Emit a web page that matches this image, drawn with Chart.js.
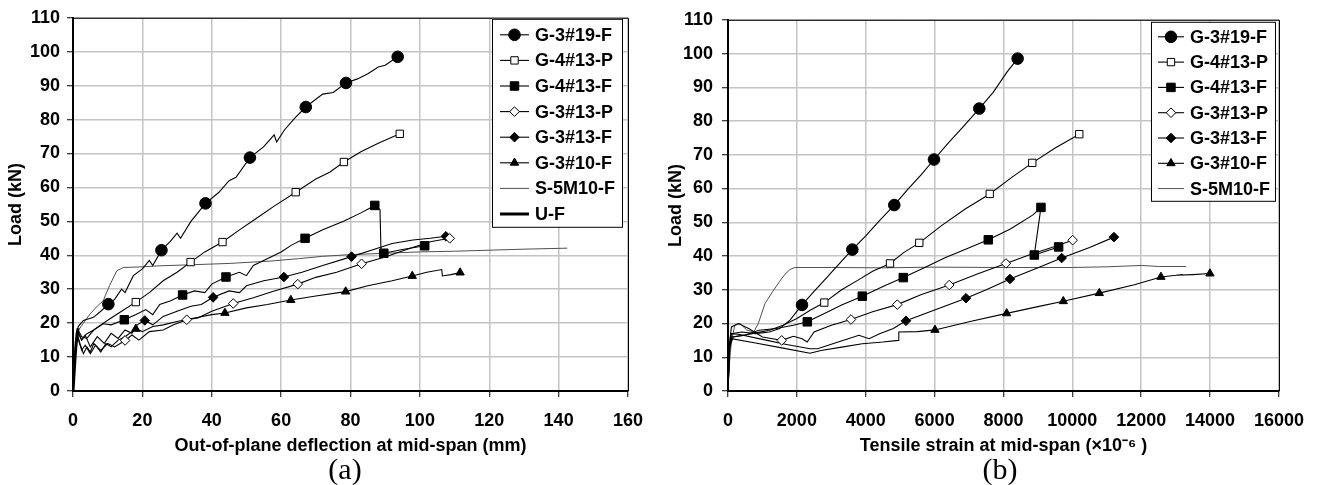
<!DOCTYPE html>
<html>
<head>
<meta charset="utf-8">
<script src="https://cdn.jsdelivr.net/npm/chart.js@4.4.0/dist/chart.umd.min.js"></script>
<style>
  body { margin: 0; background: #fff; }
  #wrap { position: relative; width: 1317px; height: 485px; }
  canvas { position: absolute; top: 0; }
  #ca { left: 0; }
  #cb { left: 658px; }
  .cap { position: absolute; top: 454px; width: 100px; text-align: center;
         font-family: "Liberation Serif", "Times New Roman", serif; font-size: 30px; line-height: 30px; }
</style>
</head>
<body>
<div id="wrap">
  <canvas id="ca" width="658" height="485"></canvas>
  <canvas id="cb" width="659" height="485"></canvas>
  <div class="cap" style="left:295px">(a)</div>
  <div class="cap" style="left:950px">(b)</div>
</div>
<script>
// ---- (a) load vs out-of-plane deflection (mm) ----
const deflG319F = [[0,0],[0.8,14],[1.5,19],[3,20.8],[5.9,21.7],[8,23.5],[10.2,25.6],[12,27],[14,30],[15,29],[17.4,34],[20,36],[22,38.5],[23,37],[25.5,41.5],[28,44],[30,46.5],[31,45],[34,50],[38.2,55.3],[42,58.5],[45,62],[47,63],[51,68.8],[55,72],[58,75.5],[58.7,73.4],[61,77],[64,80.5],[67.1,83.7],[70,86],[72,87.5],[75,88],[78.7,90.8],[82,92],[85,93.5],[88,95.5],[90,96],[93.6,98.5]];
const deflG319Fmk = [[10.2,25.6],[25.5,41.5],[38.2,55.3],[51,68.8],[67.1,83.7],[78.7,90.8],[93.6,98.5]];

const deflG413P = [[0,0],[0.8,13],[1.5,18],[2.5,16],[4,15.5],[6,18],[8,19.5],[11,21.5],[14,23.5],[18.1,26.2],[22,29],[26,32.5],[30,35],[33.9,38],[38,41],[43.1,43.9],[48,47.5],[53,51],[58,54.5],[64.2,58.6],[70,62.5],[74,64.5],[78.1,67.5],[83,70.5],[88,73],[94.2,75.8]];
const deflG413Pmk = [[18.1,26.2],[33.9,38],[43.1,43.9],[64.2,58.6],[78.1,67.5],[94.2,75.8]];

const deflG413F = [[0,0],[0.8,13],[1.5,17],[2.5,15],[3.9,16.8],[6,18],[8.7,19.8],[11,19.5],[14.8,21],[18,22.5],[21,24],[23,22.5],[25,25.5],[28,26.5],[31.6,28.3],[35,29.5],[38,29],[40,31.5],[44.1,33.6],[48,35],[50,34],[52,37],[56,39],[60,41],[63,43],[66.9,45],[72,47.5],[78,50],[83,52.5],[87,54.7],[88.5,53.5],[88.8,41],[89.6,40.6],[95,41.7],[101.4,42.8]];
const deflG413Fmk = [[14.8,21],[31.6,28.3],[44.1,33.6],[66.9,45],[87,54.7],[89.6,40.6],[101.4,42.8]];

const deflG313P = [[0,0],[0.8,12],[1.2,17],[2,14],[3,11],[4,13],[5,11.5],[6,14],[8,12],[10,14],[12,13],[15,14.9],[17,16.5],[19,15],[22,17.5],[26,18],[29,19.5],[32.8,21],[36,21.5],[40,23.5],[46.2,25.8],[52,27.5],[58,29.5],[64.8,31.5],[70,33.5],[76,35],[83.2,37.5],[90,39.5],[97,42],[103,44],[108.6,45]];
const deflG313Pmk = [[15,14.9],[32.8,21],[46.2,25.8],[64.8,31.5],[83.2,37.5],[108.6,45]];

const deflG313F = [[0,0],[0.8,13],[1.3,18],[2.5,15],[3.5,16.5],[5,13],[7,16],[9,14],[11,17],[13,15.5],[15,18],[17,17],[18.5,19.5],[20.7,20.8],[23,19.5],[26,22],[30,23.5],[34,25],[37,25.5],[40.4,27.6],[45,29.5],[48,29],[50,31],[55,32.5],[60.8,33.6],[66,35],[72,37],[80.3,39.6],[86,41.5],[92,43.5],[98,44.5],[103,45],[107.5,45.6]];
const deflG313Fmk = [[20.7,20.8],[40.4,27.6],[60.8,33.6],[80.3,39.6],[107.5,45.6]];

const deflG310F = [[0,0],[0.8,12],[1.3,16],[2.5,12],[3.5,13.5],[5,11],[6.5,13.5],[8,11.5],[9.5,14],[11,13],[13,15],[15,16],[18.1,18.3],[20,17.5],[23,19],[26,19.5],[30,20.5],[35,21.5],[40,22.5],[43.8,23],[50,24.5],[56,25.5],[62.8,26.8],[70,28],[78.6,29.3],[85,31],[92,32.5],[97.8,33.9],[102,35],[106.3,35.8],[106.5,33.9],[109,34.3],[111.6,34.9]];
const deflG310Fmk = [[18.1,18.3],[43.8,23],[62.8,26.8],[78.6,29.3],[97.8,33.9],[111.6,34.9]];

const deflS5M10F = [[0,0],[0.5,10],[1,16],[1.5,17.8],[3,20],[4.9,22.7],[7,25],[8.7,26.6],[10.5,31],[12.6,35.4],[14.5,36.4],[20,36.6],[25,36.9],[34,37.2],[45,37.6],[57,38.3],[65,39],[72,39.7],[80,40.2],[90,40.6],[100,41],[110,41.2],[120,41.5],[130,41.8],[142.5,42.1]];
const deflUF = [[0,0],[0.3,5],[0.6,10],[0.9,14],[1.2,17],[1.5,18.5]];

// ---- (b) load vs tensile strain (x10^-6) ----
const strG319F = [[0,0],[40,12],[100,17],[400,17.5],[800,17],[1200,17.5],[1500,18.5],[1800,21],[2149,25.5],[2500,29.5],[2900,34],[3300,38.5],[3610,41.9],[4000,46],[4400,50.5],[4829,55.1],[5200,59.5],[5600,64],[5982,68.6],[6400,73.5],[6800,78],[7297,83.7],[7700,88.5],[8100,94.5],[8411,98.5]];
const strG319Fmk = [[2149,25.5],[3610,41.9],[4829,55.1],[5982,68.6],[7297,83.7],[8411,98.5]];

const strG413P = [[0,0],[50,13],[150,16],[700,17],[1200,18],[1600,19.5],[2000,21.5],[2400,24],[2797,26.2],[3300,30],[3800,33],[4200,35.5],[4704,37.8],[5100,41],[5555,43.9],[6200,49],[6900,54],[7600,58.4],[8200,63],[8836,67.6],[9500,72],[10201,76.1]];
const strG413Pmk = [[2797,26.2],[4704,37.8],[5555,43.9],[7600,58.4],[8836,67.6],[10201,76.1]];

const strG413F = [[0,0],[50,14],[100,16],[500,16.5],[900,18],[1400,18.5],[1900,19.5],[2303,20.5],[2800,23],[3300,25.5],[3900,28.1],[4500,31],[5091,33.6],[5700,36.5],[6300,39.5],[6900,42],[7559,44.8],[8200,48],[8856,52.2],[9088,54.4],[8895,40.3],[9250,41.5],[9601,42.7]];
const strG413Fmk = [[2303,20.5],[3900,28.1],[5091,33.6],[7559,44.8],[9088,54.4],[8895,40.3],[9601,42.7]];

const strG313P = [[0,0],[40,14],[100,19],[300,20],[600,18.5],[1000,16],[1300,15.5],[1559,15],[1900,16.2],[2150,15.5],[2300,14.5],[2500,17.5],[3000,19.5],[3571,21.2],[4200,23.5],[4916,25.6],[5600,28.5],[6426,31.4],[7200,34.5],[8072,37.8],[8800,40.5],[9400,42.5],[10008,44.7]];
const strG313Pmk = [[1559,15],[3571,21.2],[4916,25.6],[6426,31.4],[8072,37.8],[10008,44.7]];

const strG313F = [[0,0],[30,10],[80,17],[300,16.8],[1000,15.3],[1700,13.8],[2381,12.5],[2600,12.5],[3200,14.5],[3800,16.5],[4100,15.5],[4400,17],[4800,18.5],[5168,20.8],[6000,24],[6911,27.5],[7500,30],[8188,33.2],[9000,36.5],[9689,39.4],[10500,42.5],[11208,45.6]];
const strG313Fmk = [[5168,20.8],[6911,27.5],[8188,33.2],[9689,39.4],[11208,45.6]];

const strG310F = [[0,0],[30,12],[100,15.5],[800,14.2],[1600,12.7],[2381,11.2],[2700,12],[3300,13],[3900,14],[4500,14.5],[4946,15],[4960,17.5],[5500,17.6],[6010,18.1],[7000,20.5],[8092,23],[9000,25],[9737,26.6],[10782,29],[11800,31.5],[12573,33.8],[13200,34.5],[13000,34.3],[13500,34.5],[13995,34.8]];
const strG310Fmk = [[6010,18.1],[8092,23],[9737,26.6],[10782,29],[12573,33.8],[13995,34.8]];

const strS5M10F = [[0,0],[40,8],[100,15],[200,19.5],[350,20],[550,18],[750,17.5],[880,20],[1074,25.9],[1300,29.5],[1500,32.5],[1655,34.6],[1800,36],[1945,36.6],[3000,36.6],[4500,36.5],[6000,36.7],[8000,36.6],[10000,36.6],[11000,36.8],[12000,37.2],[12500,36.9],[13300,36.9]];

const legendNames = ['G-3#19-F','G-4#13-P','G-4#13-F','G-3#13-P','G-3#13-F','G-3#10-F','S-5M10-F','U-F'];
// marker look for each specimen (same order as names)
const looks = [
  {style:'circle',   r:5.8, fill:'#000'},
  {style:'rect',     r:5.2, fill:'#fff'},
  {style:'rect',     r:6,   fill:'#000'},
  {style:'rectRot',  r:4.8, fill:'#fff'},
  {style:'rectRot',  r:4.8, fill:'#000'},
  {style:'triangle', r:4.8, fill:'#000'},
  {style:null, color:'#505050', width:1},
  {style:null, color:'#000', width:3}
];

Chart.defaults.font.family = '"Liberation Sans", Arial, sans-serif';
Chart.defaults.color = '#000';

function makeSets(lines, marks) {
  const sets = [];
  lines.forEach((ln, i) => {
    if (!ln) return;
    const lk = looks[i];
    sets.push({
      label: legendNames[i], data: ln, showLine: true, pointRadius: 0,
      borderColor: lk.color || '#000', borderWidth: lk.width || 1.1, tension: 0, order: 2
    });
    if (marks[i]) {
      sets.push({
        label: legendNames[i] + ' mk', data: marks[i], showLine: false,
        pointStyle: lk.style, pointRadius: lk.r, pointBackgroundColor: lk.fill,
        pointBorderColor: '#000', pointBorderWidth: 1, order: 1
      });
    }
  });
  return sets;
}

function drawMark(c, lk, x, y) {
  c.beginPath();
  const r = lk.r;
  if (lk.style === 'circle') c.arc(x, y, r, 0, Math.PI * 2);
  else if (lk.style === 'rect') { const s = r * Math.SQRT1_2; c.rect(x - s, y - s, 2 * s, 2 * s); }
  else if (lk.style === 'rectRot') { c.moveTo(x - r, y); c.lineTo(x, y - r); c.lineTo(x + r, y); c.lineTo(x, y + r); c.closePath(); }
  else if (lk.style === 'triangle') { c.moveTo(x - r * 0.866, y + r * 0.5); c.lineTo(x + r * 0.866, y + r * 0.5); c.lineTo(x, y - r); c.closePath(); }
  c.fillStyle = lk.fill; c.fill();
  c.lineWidth = 1; c.strokeStyle = '#000'; c.stroke();
}

const framePlugin = {
  id: 'frame',
  afterDraw(chart, args, o) {
    const a = chart.chartArea, c = chart.ctx;
    c.save();
    c.strokeStyle = '#000'; c.lineWidth = 1;
    c.beginPath();
    c.moveTo(a.left, a.top + 0.5); c.lineTo(a.right + 0.5, a.top + 0.5); c.lineTo(a.right + 0.5, a.bottom);
    c.stroke();
    // legend box
    const bx = a.right - o.right - o.w, by = a.top + o.top;
    c.fillStyle = '#fff';
    c.fillRect(bx, by, o.w, o.h);
    c.strokeRect(bx + 0.5, by + 0.5, o.w, o.h);
    c.font = 'bold 18px "Liberation Sans", Arial, sans-serif';
    c.textBaseline = 'middle';
    for (let i = 0; i < o.count; i++) {
      const lk = looks[i], cy = by + o.first + i * o.row;
      c.beginPath();
      c.strokeStyle = lk.color || '#000';
      c.lineWidth = lk.width || 1.1;
      c.moveTo(bx + o.l0, cy); c.lineTo(bx + o.l1, cy); c.stroke();
      if (lk.style) drawMark(c, lk, bx + (o.l0 + o.l1) / 2, cy);
      c.fillStyle = '#000';
      c.fillText(legendNames[i], bx + o.tx, cy + 1);
    }
    c.restore();
  }
};

function axisOpts(min, max, step, title, yw, ypad, ytitlePad) {
  return {
    x: {
      type: 'linear', min: min, max: max,
      ticks: { stepSize: step, padding: 13, font: {size: 18, weight: 'bold'}, callback: v => String(v), maxRotation: 0 },
      grid: { color: '#c4c4c4', lineWidth: 1.5, tickLength: 6, tickColor: '#000', tickWidth: 1 },
      border: { display: true, color: '#000', width: 2 },
      title: { display: true, text: title, font: {size: 18, weight: 'bold'}, padding: {top: 0, bottom: 28} },
      afterFit: s => { s.height = 94; }
    },
    y: {
      type: 'linear', min: 0, max: 110,
      ticks: { stepSize: 10, padding: ypad, font: {size: 18, weight: 'bold'} },
      grid: { color: '#c4c4c4', lineWidth: 1.5, tickLength: 6, tickColor: '#000', tickWidth: 1 },
      border: { display: true, color: '#000', width: 2 },
      title: { display: true, text: 'Load (kN)', font: {size: 18, weight: 'bold'}, padding: {top: ytitlePad, bottom: 0} },
      afterFit: s => { s.width = yw; }
    }
  };
}

new Chart(document.getElementById('ca'), {
  type: 'scatter',
  data: { datasets: makeSets(
    [deflG319F, deflG413P, deflG413F, deflG313P, deflG313F, deflG310F, deflS5M10F, deflUF],
    [deflG319Fmk, deflG413Pmk, deflG413Fmk, deflG313Pmk, deflG313Fmk, deflG310Fmk, null, null]) },
  options: {
    responsive: false, animation: false,
    layout: { padding: {top: 15, right: 30, left: 0, bottom: 0} },
    plugins: { legend: {display: false}, tooltip: {enabled: false},
      frame: { count: 8, w: 130, h: 208, right: 6, top: 1, first: 16, row: 25.6, l0: 8, l1: 37, tx: 43 } },
    scales: axisOpts(0, 160, 20, 'Out-of-plane deflection at mid-span (mm)', 73, 7, 5)
  },
  plugins: [framePlugin]
});

new Chart(document.getElementById('cb'), {
  type: 'scatter',
  data: { datasets: makeSets(
    [strG319F, strG413P, strG413F, strG313P, strG313F, strG310F, strS5M10F],
    [strG319Fmk, strG413Pmk, strG413Fmk, strG313Pmk, strG313Fmk, strG310Fmk, null]) },
  options: {
    responsive: false, animation: false,
    layout: { padding: {top: 15, right: 38, left: 0, bottom: 0} },
    plugins: { legend: {display: false}, tooltip: {enabled: false},
      frame: { count: 7, w: 124, h: 179, right: 4, top: 2, first: 15, row: 25.3, l0: 7, l1: 33, tx: 39 } },
    scales: axisOpts(0, 16000, 2000, 'Tensile strain at mid-span (\u00d710\u207b\u2076 )', 70, 9, 7)
  },
  plugins: [framePlugin]
});
</script>
</body>
</html>
